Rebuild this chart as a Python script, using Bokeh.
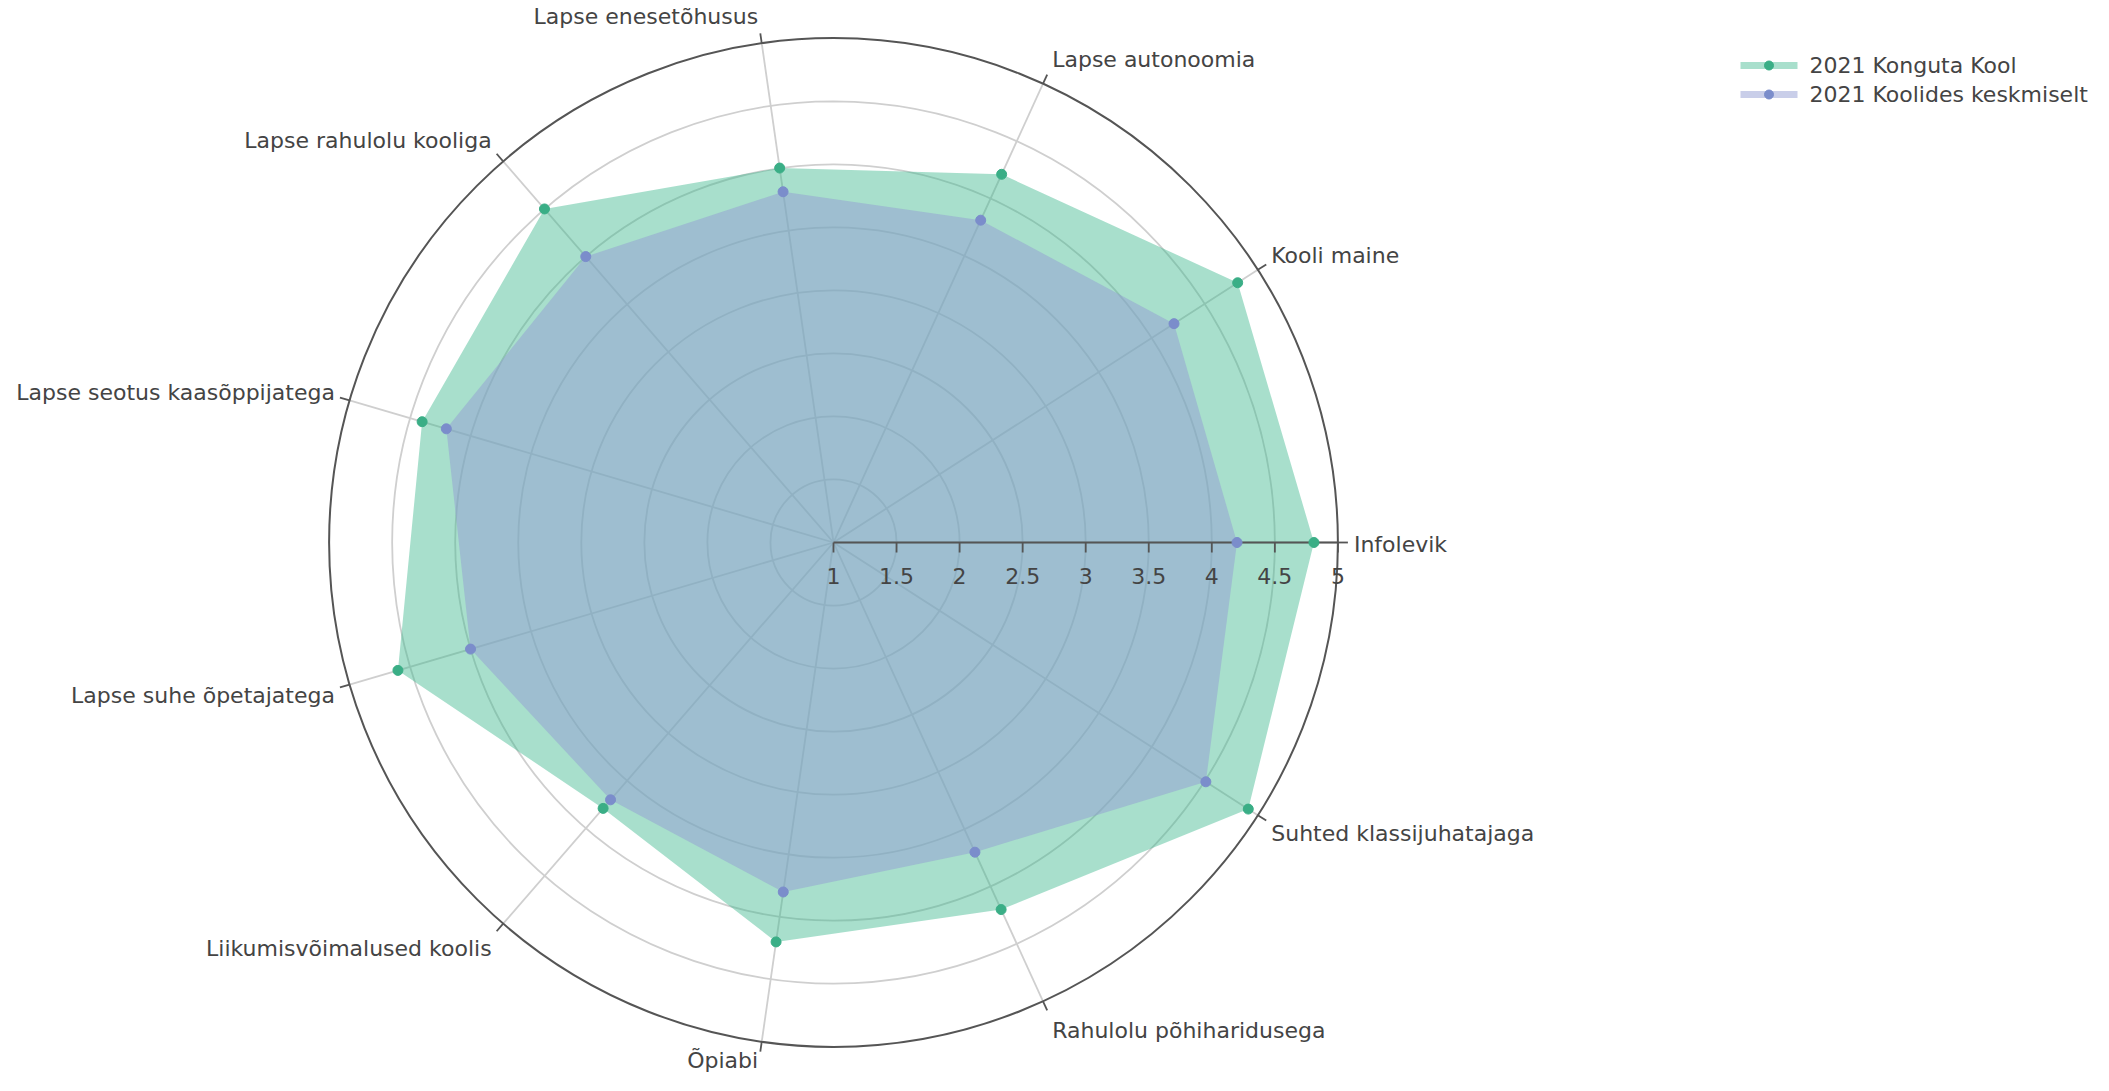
import numpy as np
from bokeh.plotting import figure
from bokeh.models import Range1d
from bokeh.core.properties import value
from bokeh.embed import file_html
from bokeh.resources import INLINE

# ---------------- data ----------------
categories = ["Infolevik", "Kooli maine", "Lapse autonoomia", "Lapse enesetõhusus",
              "Lapse rahulolu kooliga", "Lapse seotus kaasõppijatega",
              "Lapse suhe õpetajatega", "Liikumisvõimalused koolis", "Õpiabi",
              "Rahulolu põhiharidusega", "Suhted klassijuhatajaga"]
konguta = [4.81, 4.81, 4.21, 4.00, 4.50, 4.40, 4.60, 3.79, 4.20, 4.20, 4.91]
keskmiselt = [4.20, 4.21, 3.81, 3.81, 4.00, 4.20, 4.00, 3.70, 3.80, 3.70, 4.51]
series_names = ["2021 Konguta Kool", "2021 Koolides keskmiselt"]
radial_ticks = [1, 1.5, 2, 2.5, 3, 3.5, 4, 4.5, 5]
radial_tick_labels = ["1", "1.5", "2", "2.5", "3", "3.5", "4", "4.5", "5"]
r_min, r_max = 1, 5

# ---------------- layout / style ----------------
W, H = 2093, 1075
U = 126.1            # px per radial unit
CX, CY = 833, 542    # polar centre in frame px (from top-left)
FONT = "DejaVu Sans"
FS = "22px"
TXT = "#444444"
GRID = "#cfcfcf"
AX = "#555555"
GREEN, GREEN_M = "#3eb88e", "#3aae86"
BLUE, BLUE_M = "#949dd4", "#7b8dcb"

p = figure(width=W, height=H, output_backend="svg", toolbar_location=None,
           x_range=Range1d(-CX / U, (W - CX) / U),
           y_range=Range1d(-(H - CY) / U, CY / U),
           min_border=0)
p.axis.visible = False
p.grid.visible = False
p.outline_line_color = None
p.background_fill_color = "white"

n = len(categories)
theta = np.arange(n) * 2 * np.pi / n
cs, sn = np.cos(theta), np.sin(theta)
R = r_max - r_min

# grid circles
inner = [t - r_min for t in radial_ticks if r_min < t < r_max]
p.circle(x=[0] * len(inner), y=[0] * len(inner), radius=inner,
         fill_color=None, line_color=GRID, line_width=1.8)
# spokes
p.segment(x0=np.zeros(n), y0=np.zeros(n), x1=R * cs, y1=R * sn,
          line_color=GRID, line_width=1.8)
# outer circle
p.circle(x=[0], y=[0], radius=[R], fill_color=None, line_color=AX, line_width=2)
# angular ticks
tl = 10 / U
p.segment(x0=R * cs, y0=R * sn, x1=(R + tl) * cs, y1=(R + tl) * sn,
          line_color=AX, line_width=1.8)

# series fills
for vals, fc, fa in [(konguta, GREEN, 0.45), (keskmiselt, BLUE, 0.5)]:
    rr = np.array(vals) - r_min
    p.patch(rr * cs, rr * sn, fill_color=fc, fill_alpha=fa, line_alpha=0)

# radial axis (above traces)
p.segment(x0=[0], y0=[0], x1=[R], y1=[0], line_color=AX, line_width=2)
rt = np.array(radial_ticks) - r_min
p.segment(x0=rt, y0=np.zeros(len(rt)), x1=rt, y1=np.full(len(rt), -10 / U),
          line_color=AX, line_width=1.8)
p.text(x=rt, y=np.zeros(len(rt)), text=radial_tick_labels, y_offset=33,
       text_align="center", text_baseline="middle",
       text_font=value(FONT), text_font_size=FS, text_color=TXT)

# markers
for vals, mc in [(konguta, GREEN_M), (keskmiselt, BLUE_M)]:
    rr = np.array(vals) - r_min
    p.scatter(rr * cs, rr * sn, size=10, fill_color=mc, line_color=mc)

# angular labels
aligns, xo, yo = [], [], []
for c, s in zip(cs, sn):
    aligns.append("left" if c > 0.01 else "right")
    xo.append(5 * np.sign(c) * min(1, 3 * abs(c)) + (1 if abs(s) < 0.01 else 0))
    dy = 17 * s if s > 0 else 20 * s - 2
    oy = -dy
    fy = CY - (R + tl) * U * s + oy          # frame px of label centre
    if fy > H - 15:                            # keep the label inside the frame
        oy -= fy - (H - 15)
    yo.append(oy)
p.text(x=(R + tl) * cs, y=(R + tl) * sn, text=categories, text_align=aligns,
       x_offset=xo, y_offset=yo, text_baseline="middle",
       text_font=value(FONT), text_font_size=FS, text_color=TXT)

# legend (manual)
leg_x0 = 1740
leg_y = [65, 94]
for i, (name, fc, mc, fa) in enumerate([(series_names[0], GREEN, GREEN_M, 0.45),
                                        (series_names[1], BLUE, BLUE_M, 0.5)]):
    yd = (CY - leg_y[i]) / U
    xc = (leg_x0 + 28.5 - CX) / U
    p.rect(x=[xc], y=[yd], width=57, height=7, width_units="screen", height_units="screen",
           fill_color=fc, fill_alpha=fa, line_alpha=0)
    p.scatter([xc], [yd], size=9, fill_color=mc, line_color=mc)
    p.text(x=[(leg_x0 + 69 - CX) / U], y=[yd], text=[name], text_align="left",
           text_baseline="middle", text_font=value(FONT), text_font_size=FS, text_color=TXT)

open("out.html", "w").write(file_html(p, INLINE))
